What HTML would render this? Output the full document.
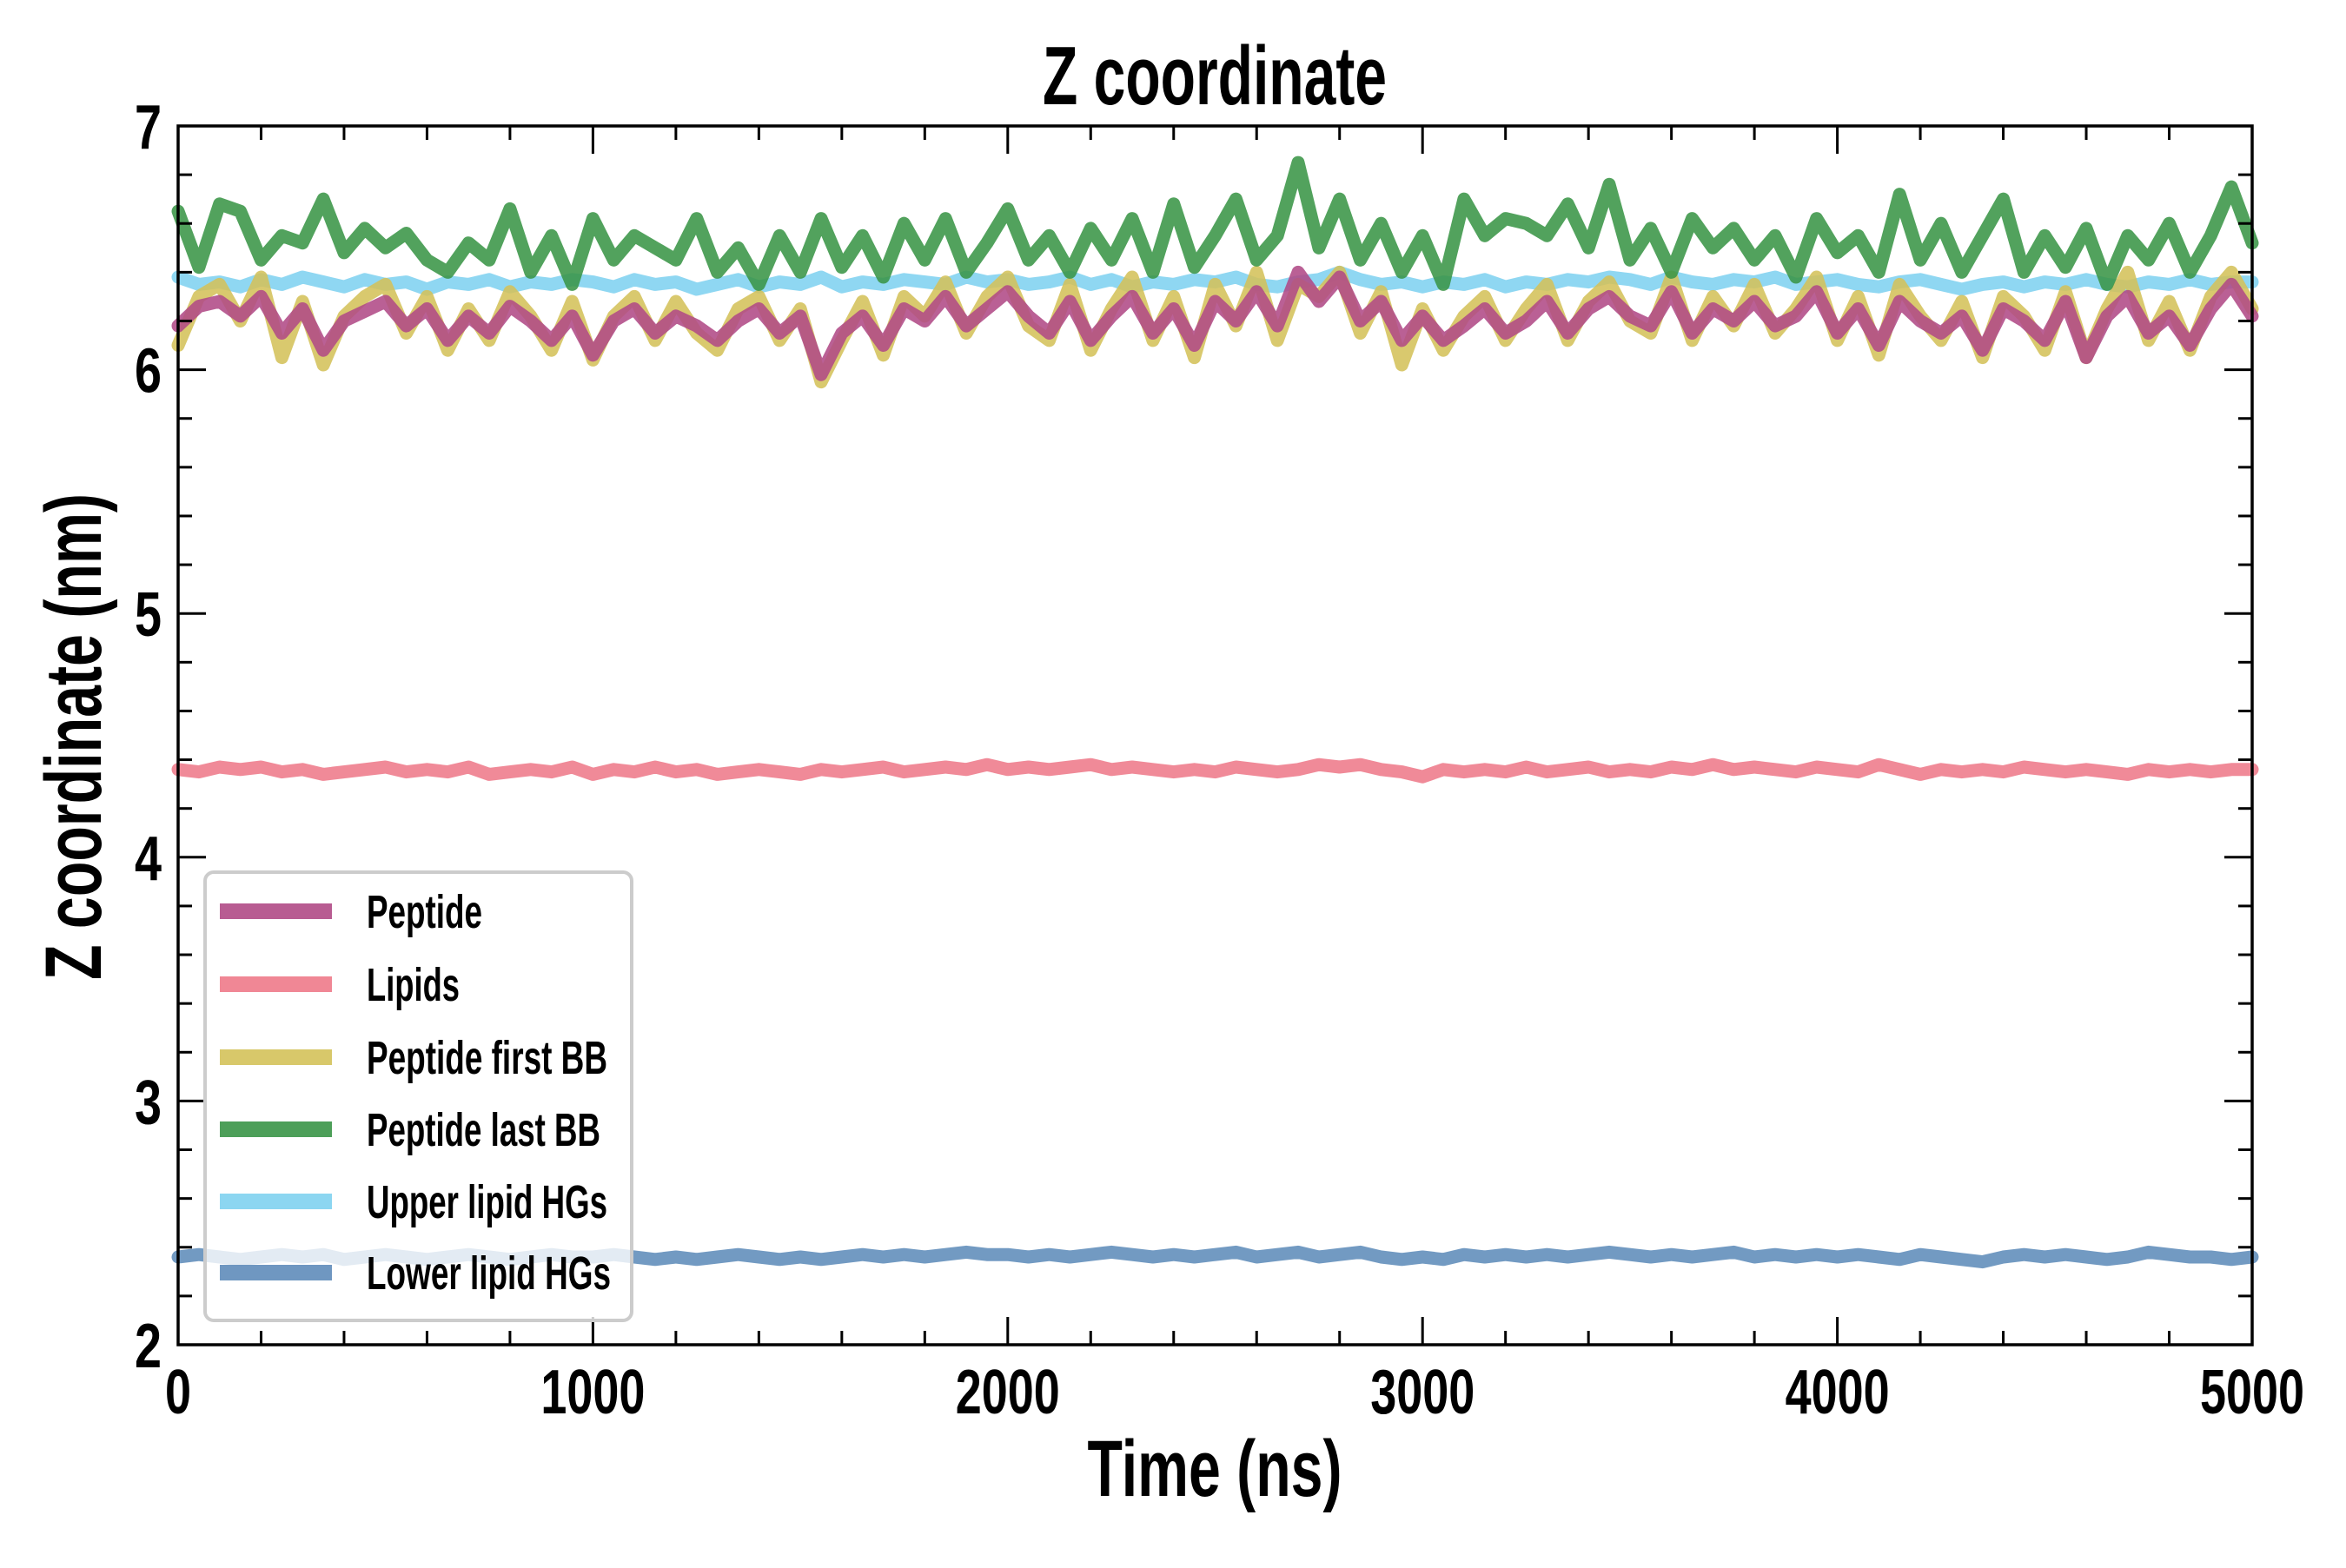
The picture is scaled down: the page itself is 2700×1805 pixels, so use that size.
<!DOCTYPE html>
<html><head><meta charset="utf-8"><style>
html,body{margin:0;padding:0;background:#fff;}
svg text{font-family:"Liberation Sans Narrow","Liberation Sans",sans-serif;font-weight:bold;fill:#000;}
</style></head><body>
<svg id="chart" width="2700" height="1800" viewBox="0 0 2700 1800" xmlns="http://www.w3.org/2000/svg">
<rect x="0" y="0" width="2700" height="1800" fill="#fff"/>
<g id="series"></g>
<g id="axes"></g>
<g id="legend"></g>
<text x="1398" y="120" font-size="96" text-anchor="middle" textLength="396" lengthAdjust="spacingAndGlyphs">Z coordinate</text>
<text x="1398" y="1722" font-size="92" text-anchor="middle" textLength="293" lengthAdjust="spacingAndGlyphs">Time (ns)</text>
<text x="0" y="0" font-size="92" text-anchor="middle" textLength="560" lengthAdjust="spacingAndGlyphs" transform="translate(116,848) rotate(-90)">Z coordinate (nm)</text>
</svg>
<script>
const xTicks = [0,1000,2000,3000,4000,5000];
const yTicks = [2,3,4,5,6,7];
const seriesNames = ["Peptide","Lipids","Peptide first BB","Peptide last BB","Upper lipid HGs","Lower lipid HGs"];
const peptide = [6.18,6.26,6.28,6.22,6.30,6.15,6.25,6.08,6.20,6.24,
6.28,6.18,6.25,6.12,6.22,6.15,6.26,6.20,6.12,6.22,
6.06,6.20,6.25,6.15,6.22,6.18,6.12,6.20,6.25,6.15,
6.22,5.98,6.15,6.22,6.10,6.25,6.20,6.30,6.18,6.25,
6.32,6.22,6.15,6.28,6.12,6.22,6.30,6.15,6.25,6.10,
6.28,6.20,6.32,6.18,6.40,6.28,6.38,6.20,6.28,6.12,
6.22,6.12,6.18,6.25,6.15,6.20,6.28,6.15,6.25,6.30,
6.22,6.18,6.32,6.15,6.25,6.20,6.28,6.18,6.22,6.32,
6.15,6.25,6.10,6.28,6.20,6.15,6.22,6.08,6.25,6.20,
6.12,6.28,6.05,6.22,6.30,6.15,6.22,6.10,6.25,6.35,6.22];
const lipids = [4.36,4.35,4.37,4.36,4.37,4.35,4.36,4.34,4.35,4.36,
4.37,4.35,4.36,4.35,4.37,4.34,4.35,4.36,4.35,4.37,
4.34,4.36,4.35,4.37,4.35,4.36,4.34,4.35,4.36,4.35,
4.34,4.36,4.35,4.36,4.37,4.35,4.36,4.37,4.36,4.38,
4.36,4.37,4.36,4.37,4.38,4.36,4.37,4.36,4.35,4.36,
4.35,4.37,4.36,4.35,4.36,4.38,4.37,4.38,4.36,4.35,
4.33,4.36,4.35,4.36,4.35,4.37,4.35,4.36,4.37,4.35,
4.36,4.35,4.37,4.36,4.38,4.36,4.37,4.36,4.35,4.37,
4.36,4.35,4.38,4.36,4.34,4.36,4.35,4.36,4.35,4.37,
4.36,4.35,4.36,4.35,4.34,4.36,4.35,4.36,4.35,4.36,4.36];
const firstBB = [6.10,6.30,6.35,6.20,6.38,6.05,6.28,6.02,6.22,6.30,
6.35,6.15,6.30,6.08,6.25,6.12,6.32,6.22,6.08,6.28,
6.04,6.22,6.30,6.12,6.28,6.15,6.08,6.25,6.30,6.12,
6.25,5.95,6.12,6.28,6.06,6.30,6.22,6.36,6.15,6.30,
6.38,6.18,6.12,6.35,6.08,6.25,6.38,6.12,6.30,6.05,
6.35,6.18,6.40,6.12,6.35,6.30,6.40,6.15,6.32,6.02,
6.25,6.08,6.22,6.30,6.12,6.25,6.35,6.12,6.28,6.36,
6.20,6.15,6.38,6.12,6.30,6.18,6.35,6.15,6.25,6.38,
6.12,6.30,6.06,6.35,6.22,6.12,6.28,6.05,6.30,6.22,
6.08,6.32,6.05,6.25,6.40,6.12,6.28,6.08,6.30,6.40,6.25];
const lastBB = [6.65,6.42,6.68,6.65,6.45,6.55,6.52,6.70,6.48,6.58,
6.50,6.56,6.45,6.40,6.52,6.45,6.66,6.40,6.55,6.35,
6.62,6.45,6.55,6.50,6.45,6.62,6.40,6.50,6.35,6.55,
6.40,6.62,6.42,6.55,6.38,6.60,6.45,6.62,6.40,6.52,
6.66,6.45,6.55,6.40,6.58,6.45,6.62,6.40,6.68,6.42,
6.55,6.70,6.45,6.55,6.85,6.50,6.70,6.45,6.60,6.40,
6.55,6.35,6.70,6.55,6.62,6.60,6.55,6.68,6.50,6.76,
6.45,6.58,6.40,6.62,6.50,6.58,6.45,6.55,6.38,6.62,
6.48,6.55,6.40,6.72,6.45,6.60,6.40,6.55,6.70,6.40,
6.55,6.42,6.58,6.35,6.55,6.45,6.60,6.40,6.55,6.75,6.52];
const upperHG = [6.38,6.35,6.36,6.34,6.37,6.35,6.38,6.36,6.34,6.37,
6.35,6.36,6.33,6.36,6.35,6.37,6.34,6.36,6.35,6.37,
6.36,6.34,6.37,6.35,6.36,6.33,6.35,6.37,6.34,6.36,
6.35,6.38,6.34,6.36,6.35,6.37,6.36,6.35,6.38,6.36,
6.37,6.35,6.36,6.38,6.35,6.37,6.34,6.36,6.35,6.37,
6.36,6.38,6.35,6.34,6.36,6.37,6.40,6.37,6.35,6.36,
6.34,6.36,6.35,6.37,6.34,6.36,6.35,6.37,6.36,6.38,
6.37,6.35,6.38,6.36,6.35,6.37,6.36,6.38,6.35,6.36,
6.37,6.35,6.34,6.36,6.37,6.35,6.33,6.35,6.36,6.34,
6.36,6.35,6.37,6.35,6.34,6.36,6.35,6.37,6.35,6.36,6.36];
const lowerHG = [2.36,2.37,2.36,2.35,2.36,2.37,2.36,2.37,2.35,2.36,
2.37,2.36,2.35,2.36,2.37,2.36,2.35,2.36,2.37,2.36,
2.36,2.37,2.36,2.35,2.36,2.35,2.36,2.37,2.36,2.35,
2.36,2.35,2.36,2.37,2.36,2.37,2.36,2.37,2.38,2.37,
2.37,2.36,2.37,2.36,2.37,2.38,2.37,2.36,2.37,2.36,
2.37,2.38,2.36,2.37,2.38,2.36,2.37,2.38,2.36,2.35,
2.36,2.35,2.37,2.36,2.37,2.36,2.37,2.36,2.37,2.38,
2.37,2.36,2.37,2.36,2.37,2.38,2.36,2.37,2.36,2.37,
2.36,2.37,2.36,2.35,2.37,2.36,2.35,2.34,2.36,2.37,
2.36,2.37,2.36,2.35,2.36,2.38,2.37,2.36,2.36,2.35,2.36];

const NS = "http://www.w3.org/2000/svg";
const L = 205, R = 2592, T = 145, B = 1548;
const xMin = 0, xMax = 5000, yMin = 2, yMax = 7;
function xs(v){ return L + (v - xMin) / (xMax - xMin) * (R - L); }
function ys(v){ return B - (v - yMin) / (yMax - yMin) * (B - T); }
function mk(tag, attrs, parent){ const e = document.createElementNS(NS, tag); for (const k in attrs) e.setAttribute(k, attrs[k]); parent.appendChild(e); return e; }

const colors = ["#b04a86","#ee7a8a","#d4c25a","#3a9547","#7fd2f0","#5f8cba"];
const allSeries = [peptide, lipids, firstBB, lastBB, upperHG, lowerHG];
const seriesKeys = ["peptide","lipids","peptide-first-bb","peptide-last-bb","upper-lipid-hgs","lower-lipid-hgs"];
const drawOrder = [1,5,4,2,0,3];
const sg = document.getElementById("series");
drawOrder.forEach(function(si){
  const vals = allSeries[si];
  const n = vals.length;
  let d = "";
  for (let i = 0; i < n; i++) {
    const t = xMin + i * (xMax - xMin) / (n - 1);
    d += (i ? "L" : "M") + xs(t).toFixed(1) + " " + ys(vals[i]).toFixed(1);
  }
  const p = mk("path", {d: d, fill: "none", stroke: colors[si], "stroke-width": 15, "stroke-linejoin": "round", "stroke-linecap": "round", "stroke-opacity": 0.88}, sg);
  
  
});

const ag = document.getElementById("axes");
for (let v = xMin; v <= xMax + 1e-6; v += 200) {
  const major = Math.abs(v % 1000) < 1e-6;
  const len = major ? 32 : 16;
  const x = xs(v);
  const t1 = mk("line", {x1: x, y1: B, x2: x, y2: B - len, stroke: "#000", "stroke-width": 3}, ag);
  
  
  const t2 = mk("line", {x1: x, y1: T, x2: x, y2: T + len, stroke: "#000", "stroke-width": 3}, ag);
  
  
}
for (let v = yMin; v <= yMax + 1e-6; v += 0.2) {
  const major = Math.abs(v - Math.round(v)) < 1e-6;
  const len = major ? 32 : 16;
  const y = ys(v);
  const t1 = mk("line", {x1: L, y1: y, x2: L + len, y2: y, stroke: "#000", "stroke-width": 3}, ag);
  
  
  const t2 = mk("line", {x1: R, y1: y, x2: R - len, y2: y, stroke: "#000", "stroke-width": 3}, ag);
  
  
}
const frame = mk("rect", {x: L, y: T, width: R - L, height: B - T, fill: "none", stroke: "#000", "stroke-width": 3.5}, ag);



xTicks.forEach(function(v){
  const s = String(v);
  const tx = mk("text", {x: xs(v), y: 1627, "font-size": 72, "text-anchor": "middle", textLength: s.length * 30, lengthAdjust: "spacingAndGlyphs"}, ag);
  tx.textContent = s;
  
  
});
yTicks.forEach(function(v){
  const s = String(v);
  const tx = mk("text", {x: 186, y: ys(v) + 26, "font-size": 72, "text-anchor": "end", textLength: s.length * 31, lengthAdjust: "spacingAndGlyphs"}, ag);
  tx.textContent = s;
  
  
});

const lg = document.getElementById("legend");
const box = mk("rect", {x: 236, y: 1004, width: 491, height: 516, rx: 10, ry: 10, fill: "#fff", "fill-opacity": 0.8, stroke: "#cccccc", "stroke-width": 4}, lg);


const legendY = [1049, 1133, 1217, 1300, 1383, 1465];
const legendW = [133, 107, 277, 269, 277, 281];
seriesNames.forEach(function(name, i){
  const ln = mk("line", {x1: 253, y1: legendY[i], x2: 382, y2: legendY[i], stroke: colors[i], "stroke-width": 18, "stroke-opacity": 0.9}, lg);
  
  
  const tx = mk("text", {x: 422, y: legendY[i] + 19, "font-size": 54, textLength: legendW[i], lengthAdjust: "spacingAndGlyphs"}, lg);
  tx.textContent = name;
  
  
});
</script>
</body></html>
